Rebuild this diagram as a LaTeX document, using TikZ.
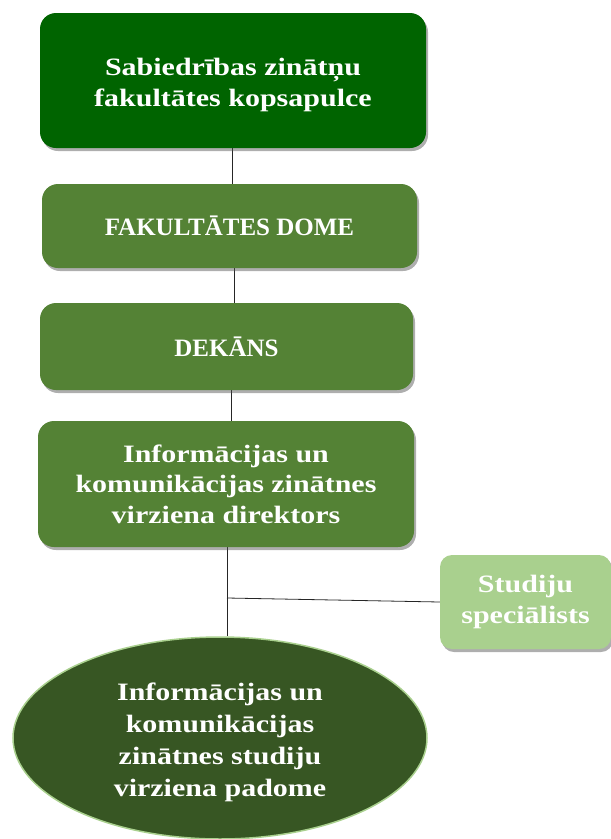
\documentclass[tikz,border=0pt]{standalone}
\usepackage{fontspec}
\setmainfont{Liberation Serif}
\newfontfamily\widefont[FakeStretch=1.2]{Liberation Serif}
\usetikzlibrary{shadows,shapes.geometric,backgrounds}
\definecolor{gDark}{RGB}{0,100,0}
\definecolor{gMid}{RGB}{84,130,53}
\definecolor{gLight}{RGB}{169,208,142}
\definecolor{gDeep}{RGB}{55,86,35}
\tikzset{
  labelfont/.style={text=white, font=\widefont\bfseries\fontsize{25}{30.5}\selectfont, align=center},
  capsfont/.style={font=\bfseries\fontsize{25}{30.5}\selectfont},
  box/.style={labelfont, rectangle, rounded corners=16pt, inner sep=0pt,
    drop shadow={shadow xshift=2pt, shadow yshift=-3pt, opacity=0.45, fill=black!70}},
  conn/.style={draw=black!85, line width=0.8pt}
}
\begin{document}
\begin{tikzpicture}[x=1pt,y=-1pt]
\useasboundingbox (0,0) rectangle (611,839);
\node (a) at (233,80.5) [box, fill=gDark, minimum width=386pt, minimum height=135pt] {};
\node (at) at (233,85) [labelfont] {Sabiedrības zinātņu\\fakultātes kopsapulce};
\node (b) at (229.5,226) [box, capsfont, fill=gMid, minimum width=375pt, minimum height=84pt] {FAKULTĀTES DOME};
\node (c) at (226.5,346.5) [box, capsfont, fill=gMid, minimum width=373pt, minimum height=87pt] {DEKĀNS};
\node (d) at (226,484) [box, fill=gMid, minimum width=376pt, minimum height=126pt] {Informācijas un\\komunikācijas zinātnes\\virziena direktors};
\node (s) at (525.5,602) [box, fill=gLight, rounded corners=12pt, minimum width=171pt, minimum height=94pt] {Studiju\\speciālists};
\node (e) at (220,738) [ellipse, minimum width=414pt, minimum height=202pt, fill=gDeep, draw=gLight, line width=1.5pt, inner sep=0pt] {};
\node (et) at (220,742) [labelfont, font=\widefont\bfseries\fontsize{25}{32}\selectfont] {Informācijas un\\komunikācijas\\zinātnes studiju\\virziena padome};
\coordinate (ab) at (232,0);
\coordinate (bc) at (234,0);
\coordinate (cd) at (231,0);
\coordinate (j) at (227,598);
\begin{scope}[on background layer]
\draw[conn] (a.south -| ab) -- (b.north -| ab);
\draw[conn] (b.south -| bc) -- (c.north -| bc);
\draw[conn] (c.south -| cd) -- (d.north -| cd);
\draw[conn] (d.south -| j) -- (e.north -| j);
\draw[conn] (j) -- (s.west);
\end{scope}
\end{tikzpicture}
\end{document}
